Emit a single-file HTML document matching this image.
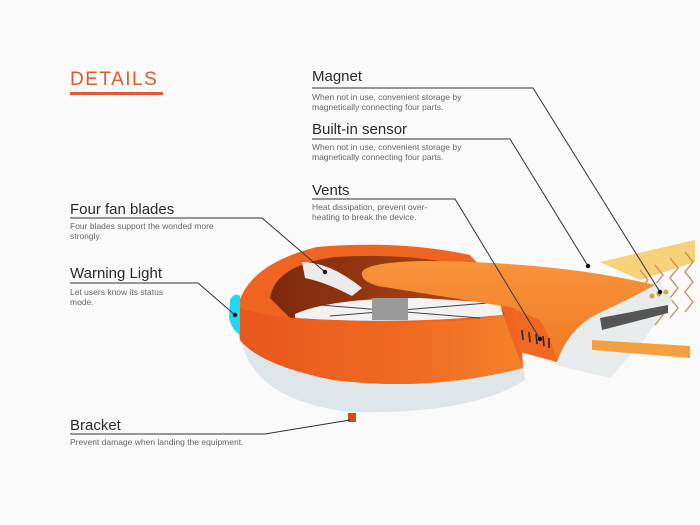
<!DOCTYPE html>
<html><head><meta charset="utf-8"><style>
html,body{margin:0;padding:0;background:#fafafa;}
body{width:700px;height:525px;position:relative;overflow:hidden;font-family:"Liberation Sans",sans-serif;}
.t{position:absolute;color:#2a2a2a;font-size:15px;line-height:16px;white-space:nowrap;}
.d{position:absolute;color:#666;font-size:8.5px;line-height:9.5px;white-space:nowrap;}
</style></head><body>
<svg width="700" height="525" style="position:absolute;left:0;top:0">
<defs>
<linearGradient id="og" x1="0" x2="1"><stop offset="0" stop-color="#e8561c"/><stop offset="0.6" stop-color="#f06a22"/><stop offset="1" stop-color="#f5822a"/></linearGradient>
<linearGradient id="arm" x1="0" y1="0" x2="0" y2="1"><stop offset="0" stop-color="#f7943c"/><stop offset="1" stop-color="#f07a22"/></linearGradient>
<linearGradient id="in" x1="0" x2="1"><stop offset="0" stop-color="#7a2a0c"/><stop offset="1" stop-color="#b84a18"/></linearGradient>
</defs>
<!-- back arm strip -->
<path d="M600 262 L695 240 L695 262 L640 280 Z" fill="#f7d27a"/>
<g stroke="#c88a60" stroke-width="1.3" fill="none">
<path d="M640 270 l8 10 l-8 10 l8 10 l-8 10 l8 10 l-8 10"/>
<path d="M655 265 l8 10 l-8 10 l8 10 l-8 10 l8 10 l-8 10"/>
<path d="M670 258 l8 10 l-8 10 l8 10 l-8 10 l8 10 l-8 10"/>
<path d="M685 252 l8 10 l-8 10 l8 10 l-8 10 l8 10 l-8 10"/>
</g>
<!-- white bowl -->
<path d="M240 335 Q250 400 350 412 Q470 415 525 380 L523 362 Z" fill="#dfe6e9"/>
<!-- ring -->
<path d="M237 310 Q245 265 317 247 Q400 240 470 255 L520 310 L523 368 Q430 392 333 380 Q260 365 240 340 Z" fill="#ee6420"/>
<path d="M270 298 Q275 265 335 257 Q420 252 480 270 L505 315 Q400 325 290 318 Z" fill="url(#in)"/>
<path d="M295 314 Q330 298 420 298 L500 303 L503 315 Q400 325 295 318 Z" fill="#f2f2f2"/>
<g stroke="#444" stroke-width="1"><path d="M330 316 L500 302"/><path d="M320 305 L480 318"/></g>
<rect x="372" y="298" width="36" height="22" fill="#9a9a9a"/>
<path d="M302 262 Q330 262 362 288 L352 296 Q325 282 305 278 Z" fill="#ececec"/>
<path d="M237 307 Q283 323 400 323 Q470 322 503 315 L523 368 Q430 392 333 380 Q260 365 240 340 Z" fill="url(#og)"/>
<!-- cyan light -->
<path d="M230 300 Q234 292 240 296 L240 335 Q232 330 229 318 Z" fill="#22d8ee"/>
<!-- white body under arm -->
<path d="M515 312 L555 365 L610 378 L640 345 L672 300 L660 282 L600 300 Z" fill="#e8eced"/>
<path d="M600 318 L668 305 L668 313 L602 330 Z" fill="#555"/>
<path d="M592 340 L690 346 L690 358 L592 350 Z" fill="#f5a040"/>
<!-- arm top -->
<path d="M362 272 Q368 262 425 261 Q560 262 655 285 Q628 300 595 315 Q568 330 557 362 L520 350 L515 308 Q440 296 378 286 Q360 281 362 272 Z" fill="url(#arm)"/>
<path d="M512 308 L540 320 Q552 340 557 362 L520 352 Z" fill="#ee6a22"/>
<g stroke="#2a1a10" stroke-width="1.5"><path d="M522 330 l1 10 M529 332 l1 10 M536 334 l1 10 M543 336 l1 10 M549 338 l0 10"/></g>
<g fill="#d9a23a"><circle cx="652" cy="296" r="2.5"/><circle cx="659" cy="294" r="2.5"/><circle cx="666" cy="292" r="2.5"/></g>
<rect x="348" y="413" width="8" height="9" fill="#c8501a"/>
<g stroke="#333" stroke-width="1" fill="none">
<path d="M312 88 H533 L660 292"/>
<path d="M312 139 H510 L588 266"/>
<path d="M312 199 H455 L540 339"/>
<path d="M70 218 H262 L325 272"/>
<path d="M70 283 H198 L235 315"/>
<path d="M70 434 H265 L350 420"/>
</g>
<g fill="#111"><circle cx="660" cy="292" r="2.2"/><circle cx="588" cy="266" r="2.2"/><circle cx="540" cy="339" r="2.2"/><circle cx="325" cy="272" r="2.2"/><circle cx="235" cy="315" r="2.2"/></g>
<rect x="70" y="92" width="93" height="3" fill="#e05a2b"/>
</svg>
<div class="t" style="left:70px;top:70px;color:#e05a2b;font-size:19px;letter-spacing:1.5px;line-height:20px">DETAILS</div>
<div class="t" style="left:312px;top:69px">Magnet</div>
<div class="d" style="left:312px;top:93px">When not in use, convenient storage by<br>magnetically connecting four parts.</div>
<div class="t" style="left:312px;top:122px">Built-in sensor</div>
<div class="d" style="left:312px;top:143px">When not in use, convenient storage by<br>magnetically connecting four parts.</div>
<div class="t" style="left:312px;top:183px">Vents</div>
<div class="d" style="left:312px;top:203px">Heat dissipation, prevent over-<br>heating to break the device.</div>
<div class="t" style="left:70px;top:202px">Four fan blades</div>
<div class="d" style="left:70px;top:222px">Four blades support the wonded more<br>strongly.</div>
<div class="t" style="left:70px;top:266px">Warning Light</div>
<div class="d" style="left:70px;top:288px">Let users know its status<br>mode.</div>
<div class="t" style="left:70px;top:418px">Bracket</div>
<div class="d" style="left:70px;top:438px">Prevent damage when landing the equipment.</div>
</body></html>
